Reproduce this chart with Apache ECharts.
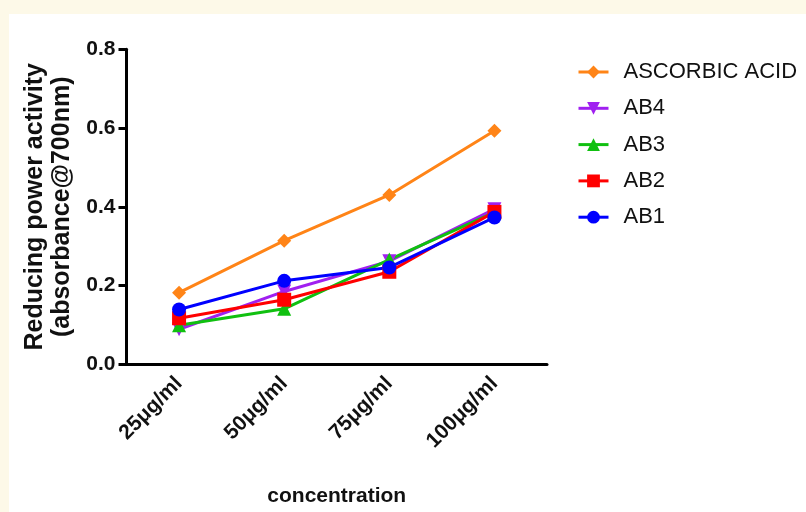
<!DOCTYPE html>
<html>
<head>
<meta charset="utf-8">
<script src="https://cdn.jsdelivr.net/npm/echarts@6/dist/echarts.min.js"></script>
<style>
  html, body { margin: 0; padding: 0; background: #fdf9e8; }
  #chart { width: 806px; height: 512px; }
</style>
</head>
<body>
<div id="chart"></div>
<script>
// Reducing power assay: absorbance at 700 nm per concentration
const categories = ['25μg/ml', '50μg/ml', '75μg/ml', '100μg/ml'];
const yTicks = [0, 0.2, 0.4, 0.6, 0.8];

const ascorbicAcid = [0.182, 0.314, 0.430, 0.593];
const ab4 = [0.089, 0.185, 0.262, 0.394];
const ab3 = [0.099, 0.141, 0.266, 0.386];
const ab2 = [0.117, 0.164, 0.235, 0.387];
const ab1 = [0.139, 0.212, 0.246, 0.373];

const FONT = 'Liberation Sans, Arial, sans-serif';

function lineSeries(name, data, color, symbol, rotate) {
  return {
    name: name,
    type: 'line',
    data: data,
    symbol: symbol,
    symbolSize: 14,
    symbolRotate: rotate || 0,
    lineStyle: { color: color, width: 3 },
    itemStyle: { color: color, borderWidth: 0 },
    emphasis: { disabled: true }
  };
}

const chart = echarts.init(document.getElementById('chart'), null, { renderer: 'canvas' });
chart.setOption({
  animation: false,
  backgroundColor: '#fdf9e8',
  graphic: [{
    type: 'rect',
    z: -10,
    shape: { x: 9, y: 14, width: 806, height: 512 },
    style: { fill: '#ffffff' },
    silent: true
  }],
  grid: { left: 126.5, right: 259, top: 49.3, bottom: 147.7, containLabel: false },
  legend: {
    left: 577,
    top: 61,
    padding: 0,
    orient: 'vertical',
    itemWidth: 30,
    itemHeight: 16,
    itemGap: 14.3,
    lineStyle: { width: 3 },
    textStyle: { fontFamily: FONT, fontSize: 22, color: '#111', lineHeight: 22, padding: [0, 0, 0, 10] },
    data: ['ASCORBIC ACID', 'AB4', 'AB3', 'AB2', 'AB1']
  },
  xAxis: {
    type: 'category',
    data: categories,
    boundaryGap: true,
    name: 'concentration',
    nameLocation: 'middle',
    nameGap: 121,
    nameTextStyle: { fontFamily: FONT, fontSize: 21, fontWeight: 'bold', color: '#111' },
    axisLine: { lineStyle: { color: '#000', width: 3 } },
    axisTick: { alignWithLabel: true, length: 8, lineStyle: { color: '#000', width: 3 } },
    axisLabel: { rotate: 45, margin: 16, fontFamily: FONT, fontSize: 21, fontWeight: 'bold', color: '#111' },
    splitLine: { show: false }
  },
  yAxis: {
    type: 'value',
    min: yTicks[0],
    max: yTicks[yTicks.length - 1],
    interval: 0.2,
    name: 'Reducing power activity\n(absorbance@700nm)',
    nameLocation: 'middle',
    nameRotate: 90,
    nameGap: 50,
    nameTextStyle: { fontFamily: FONT, fontSize: 25, fontWeight: 'bold', color: '#111', lineHeight: 27 },
    axisLine: { show: true, lineStyle: { color: '#000', width: 3 } },
    axisTick: { show: true, length: 8, lineStyle: { color: '#000', width: 3 } },
    axisLabel: {
      margin: 11, fontFamily: FONT, fontSize: 21, fontWeight: 'bold', color: '#111',
      formatter: v => v.toFixed(1)
    },
    splitLine: { show: false }
  },
  series: [
    lineSeries('ASCORBIC ACID', ascorbicAcid, '#ff8417', 'diamond'),
    lineSeries('AB4', ab4, '#a020f0', 'triangle', 180),
    lineSeries('AB3', ab3, '#10c010', 'triangle'),
    lineSeries('AB2', ab2, '#ff0000', 'rect'),
    lineSeries('AB1', ab1, '#0000ff', 'circle')
  ]
});
</script>
</body>
</html>
